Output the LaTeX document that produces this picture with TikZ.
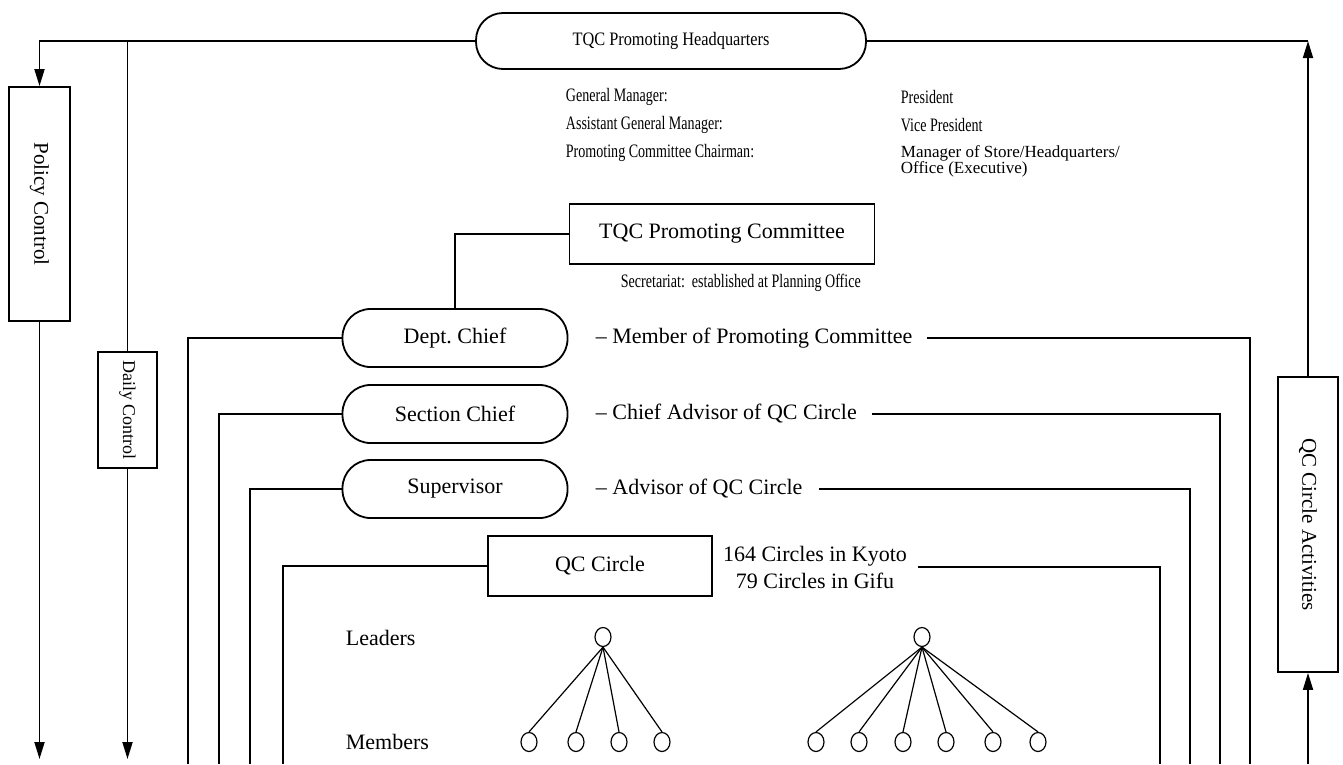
\documentclass[tikz,border=0pt]{standalone}
\usepackage{fontspec}
\setmainfont{Liberation Serif}
\usepackage{graphicx}
\usetikzlibrary{arrows.meta,shapes.geometric}
\newcommand{\squeezed}[1]{\scalebox{0.74}[1]{#1}}

\begin{document}
\begin{tikzpicture}[x=1pt, y=-1pt, line width=1.8pt,
  round style/.style={draw, rounded corners=28pt, minimum width=225pt, minimum height=58pt, font=\fontsize{22}{26}\selectfont},
  box style/.style={draw, rectangle, minimum height=60pt, font=\fontsize{22}{26}\selectfont},
  side style/.style={draw, rectangle, minimum width=60pt, inner sep=2pt, font=\fontsize{21}{25}\selectfont},
  label style/.style={anchor=west, inner sep=0pt, font=\fontsize{22}{26}\selectfont},
  info style/.style={anchor=west, inner sep=0pt, font=\fontsize{19}{22}\selectfont},
  person style/.style={draw, ellipse, minimum width=16pt, minimum height=19pt, inner sep=0pt, line width=1.2pt},
  arr/.style={-{Triangle[length=17pt,width=10pt]}}]
	\useasboundingbox (0,0) rectangle (1343,764);
	\coordinate (B) at (0,764);
	\coordinate (T) at (0,759);
	% headquarters and the three side boxes
	\node[round style, rounded corners=27pt, minimum width=390pt, minimum height=56pt, font=\fontsize{19}{22}\selectfont] (HQ) at (671,41) {\scalebox{0.86}[1]{TQC Promoting Headquarters}};
	\node[side style, minimum height=234pt, minimum width=61pt] (PC) at (39.5,204) {\rotatebox{-90}{Policy Control}};
	\node[side style, minimum height=116pt, minimum width=59pt, font=\fontsize{18}{22}\selectfont] (DC) at (127.5,410) {\rotatebox{-90}{Daily Control}};
	\node[side style, minimum height=295pt] (CA) at (1308,524.5) {\rotatebox{-90}{QC Circle Activities}};
	\draw[arr] (HQ.west) -| (PC.north);
	\draw (DC.north |- HQ.west) -- (DC.north);
	\draw[arr] (PC.south) -- (PC.south |- T);
	\draw[arr] (DC.south) -- (DC.south |- T);
	\draw (HQ.east) -- (CA.north |- HQ.east);
	\draw[arr] (CA.north) -- (CA.north |- HQ.east);
	\draw[arr] (CA.south |- B) -- (CA.south);
	% officers
	\node[info style] (GM) at (565,97) {\squeezed{General Manager:}};
	\node[info style] (GMp) at (900,97) {\squeezed{President}};
	\node[info style] (AGM) at (565,125) {\squeezed{Assistant General Manager:}};
	\node[info style] (AGMp) at (900,125) {\squeezed{Vice President}};
	\node[info style] (CH) at (565,153) {\squeezed{Promoting Committee Chairman:}};
	\node[info style, anchor=north west, align=left, font=\fontsize{17}{16}\selectfont] (CHp) at (900,145) {Manager of Store/Headquarters/\\Office (Executive)};
	% committee
	\node[box style, minimum width=305pt] (COM) at (722,234) {TQC Promoting Committee};
	\node[info style] (SEC) at (620,283) {\squeezed{Secretariat:\ \ established at Planning Office}};
	\node[round style] (DEP) at (455,338) {Dept.\ Chief};
	\node[round style] (SCT) at (455,414) {Section Chief};
	\node[round style] (SUP) at (455,489) {Supervisor};
	\node[box style, minimum width=224pt] (QC) at (600,566) {QC Circle};
	\node[label style] (L1) at (595,338) {-- Member of Promoting Committee};
	\node[label style] (L2) at (595,414) {-- Chief Advisor of QC Circle};
	\node[label style] (L3) at (595,489) {-- Advisor of QC Circle};
	\node[align=center, inner sep=0pt, font=\fontsize{22}{27}\selectfont] (L4) at (815,567) {164 Circles in Kyoto\\79 Circles in Gifu};
	\draw (COM.west) -| (DEP.north);
	\foreach \n/\l/\r in {DEP/188/1250, SCT/219/1220, SUP/250/1190, QC/283/1160} {
		\coordinate (\n-l) at (\l,764);
		\coordinate (\n-r) at (\r,764);
		\draw (\n.west) -| (\n-l);
	}
	\draw ([xshift=14pt]L1.east) -| (DEP-r);
	\draw ([xshift=14pt]L2.east) -| (SCT-r);
	\draw ([xshift=16pt]L3.east) -| (SUP-r);
	\draw ([xshift=10pt]L4.east) -| (QC-r);
	% circles
	\node[label style] (LEA) at (345,638) {Leaders};
	\node[label style] (MEM) at (345,742) {Members};
	\node[person style] (A0) at (603,637) {};
	\foreach \x [count=\i] in {529,576,619,662} {
		\node[person style] (A\i) at (\x,742) {};
		\draw[line width=1.2pt] (A0.south) -- (A\i.north);
	}
	\node[person style] (B0) at (922,637) {};
	\foreach \x [count=\i] in {816,859,903,946,993,1038} {
		\node[person style] (B\i) at (\x,742) {};
		\draw[line width=1.2pt] (B0.south) -- (B\i.north);
	}
\end{tikzpicture}
\end{document}
